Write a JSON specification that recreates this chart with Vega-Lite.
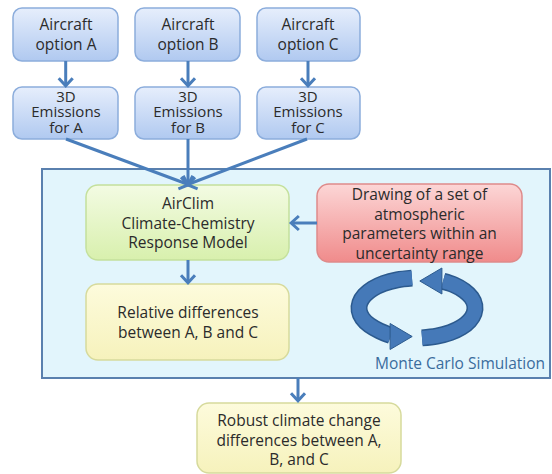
{
  "$schema": "https://vega.github.io/schema/vega-lite/v6.json",
  "width": 552,
  "height": 474,
  "autosize": "none",
  "padding": 0,
  "background": "white",
  "config": {"view": {"stroke": null}},
  "datasets": {
    "boxes": [
      {"name": "frame", "kind": "frame", "x": 42, "x2": 550, "y": 169, "y2": 378},
      {"name": "optA", "kind": "blue", "x": 13, "x2": 118, "y": 8, "y2": 61},
      {"name": "optB", "kind": "blue", "x": 135, "x2": 240, "y": 8, "y2": 61},
      {"name": "optC", "kind": "blue", "x": 257, "x2": 360, "y": 8, "y2": 61},
      {"name": "emA", "kind": "blue", "x": 13, "x2": 118, "y": 87, "y2": 139},
      {"name": "emB", "kind": "blue", "x": 135, "x2": 240, "y": 87, "y2": 139},
      {"name": "emC", "kind": "blue", "x": 257, "x2": 360, "y": 87, "y2": 139},
      {"name": "airclim", "kind": "green", "x": 86, "x2": 289, "y": 185, "y2": 260},
      {"name": "draw", "kind": "red", "x": 317, "x2": 522, "y": 184, "y2": 262},
      {"name": "rel", "kind": "yellow", "x": 86, "x2": 289, "y": 284, "y2": 360},
      {"name": "robust", "kind": "yellow", "x": 197, "x2": 401, "y": 403, "y2": 473}
    ],
    "links": [
      {"x": 65.7, "y": 61, "x2": 65.7, "y2": 85},
      {"x": 188, "y": 61, "x2": 188, "y2": 85},
      {"x": 308, "y": 61, "x2": 308, "y2": 85},
      {"x": 66, "y": 139, "x2": 187, "y2": 184},
      {"x": 188, "y": 139, "x2": 188, "y2": 184},
      {"x": 307, "y": 139, "x2": 189, "y2": 184},
      {"x": 317, "y": 223, "x2": 292, "y2": 223},
      {"x": 188, "y": 260, "x2": 188, "y2": 282},
      {"x": 298, "y": 378, "x2": 298, "y2": 400}
    ],
    "headsDown": [
      {"x": 65.7, "y": 82},
      {"x": 188, "y": 82},
      {"x": 308, "y": 82},
      {"x": 188, "y": 181},
      {"x": 188, "y": 279},
      {"x": 298, "y": 397}
    ],
    "headsLeft": [
      {"x": 295, "y": 223}
    ],
    "ring": [
      {"piece": "L", "i": 0, "x": 412, "y": 278.1},
      {"piece": "L", "i": 1, "x": 397.2, "y": 279.8},
      {"piece": "L", "i": 2, "x": 383.7, "y": 283.4},
      {"piece": "L", "i": 3, "x": 372.6, "y": 288.7},
      {"piece": "L", "i": 4, "x": 364.5, "y": 295.3},
      {"piece": "L", "i": 5, "x": 359.9, "y": 302.8},
      {"piece": "L", "i": 6, "x": 359.2, "y": 310.6},
      {"piece": "L", "i": 7, "x": 362.5, "y": 318.3},
      {"piece": "L", "i": 8, "x": 369.5, "y": 325.2},
      {"piece": "L", "i": 9, "x": 379.7, "y": 331.0},
      {"piece": "L", "i": 10, "x": 391, "y": 335.5},
      {"piece": "R", "i": 0, "x": 422, "y": 337.9},
      {"piece": "R", "i": 1, "x": 436.8, "y": 336.2},
      {"piece": "R", "i": 2, "x": 450.3, "y": 332.6},
      {"piece": "R", "i": 3, "x": 461.4, "y": 327.3},
      {"piece": "R", "i": 4, "x": 469.5, "y": 320.7},
      {"piece": "R", "i": 5, "x": 474.1, "y": 313.2},
      {"piece": "R", "i": 6, "x": 474.8, "y": 305.4},
      {"piece": "R", "i": 7, "x": 471.5, "y": 297.7},
      {"piece": "R", "i": 8, "x": 464.5, "y": 290.8},
      {"piece": "R", "i": 9, "x": 454.3, "y": 285.0},
      {"piece": "R", "i": 10, "x": 443, "y": 281.3}
    ],
    "texts": [
      {"label": "Aircraft\noption A", "kind": "box", "x": 66, "y": 25},
      {"label": "Aircraft\noption B", "kind": "box", "x": 188, "y": 25},
      {"label": "Aircraft\noption C", "kind": "box", "x": 308, "y": 25},
      {"label": "3D\nEmissions\nfor A", "kind": "emis", "x": 66, "y": 96.5},
      {"label": "3D\nEmissions\nfor B", "kind": "emis", "x": 188, "y": 96.5},
      {"label": "3D\nEmissions\nfor C", "kind": "emis", "x": 308, "y": 96.5},
      {"label": "AirClim\nClimate-Chemistry\nResponse Model", "kind": "box", "x": 188, "y": 204},
      {"label": "Drawing of a set of\natmospheric\nparameters within an\nuncertainty range", "kind": "box", "x": 419.5, "y": 195},
      {"label": "Relative differences\nbetween A, B and C", "kind": "box", "x": 188, "y": 313},
      {"label": "Robust climate change\ndifferences between A,\nB, and C", "kind": "box", "x": 299, "y": 421},
      {"label": "Monte Carlo Simulation", "kind": "caption", "x": 460, "y": 364}
    ]
  },
  "layer": [
    {
      "data": {"name": "boxes"},
      "transform": [{"filter": "datum.kind === 'frame'"}],
      "mark": {"type": "rect", "fill": "#e2f5fc", "stroke": "#5a80ae", "strokeWidth": 2},
      "encoding": {
        "x": {"field": "x", "type": "quantitative", "scale": {"domain": [0, 552], "nice": false, "zero": false}, "axis": null},
        "x2": {"field": "x2"},
        "y": {"field": "y", "type": "quantitative", "scale": {"domain": [0, 474], "nice": false, "zero": false, "reverse": true}, "axis": null},
        "y2": {"field": "y2"}
      }
    },
    {
      "data": {"name": "boxes"},
      "transform": [{"filter": "datum.kind === 'blue'"}],
      "mark": {"type": "rect", "cornerRadius": 9, "stroke": "#8caddc", "strokeWidth": 1.5,
        "fill": {"gradient": "linear", "x1": 0, "y1": 0, "x2": 0, "y2": 1, "stops": [{"offset": 0, "color": "#e6eefc"}, {"offset": 1, "color": "#b0c9f0"}]}},
      "encoding": {
        "x": {"field": "x", "type": "quantitative"},
        "x2": {"field": "x2"},
        "y": {"field": "y", "type": "quantitative"},
        "y2": {"field": "y2"}
      }
    },
    {
      "data": {"name": "boxes"},
      "transform": [{"filter": "datum.kind === 'green'"}],
      "mark": {"type": "rect", "cornerRadius": 12, "stroke": "#c4e09c", "strokeWidth": 1.5,
        "fill": {"gradient": "linear", "x1": 0, "y1": 0, "x2": 0, "y2": 1, "stops": [{"offset": 0, "color": "#f3fbe3"}, {"offset": 1, "color": "#d8f0ad"}]}},
      "encoding": {
        "x": {"field": "x", "type": "quantitative"},
        "x2": {"field": "x2"},
        "y": {"field": "y", "type": "quantitative"},
        "y2": {"field": "y2"}
      }
    },
    {
      "data": {"name": "boxes"},
      "transform": [{"filter": "datum.kind === 'red'"}],
      "mark": {"type": "rect", "cornerRadius": 12, "stroke": "#de8a8a", "strokeWidth": 1.5,
        "fill": {"gradient": "linear", "x1": 0, "y1": 0, "x2": 0, "y2": 1, "stops": [{"offset": 0, "color": "#fcd6d6"}, {"offset": 1, "color": "#f08b8b"}]}},
      "encoding": {
        "x": {"field": "x", "type": "quantitative"},
        "x2": {"field": "x2"},
        "y": {"field": "y", "type": "quantitative"},
        "y2": {"field": "y2"}
      }
    },
    {
      "data": {"name": "boxes"},
      "transform": [{"filter": "datum.kind === 'yellow'"}],
      "mark": {"type": "rect", "cornerRadius": 12, "stroke": "#d6da9c", "strokeWidth": 1.5,
        "fill": {"gradient": "linear", "x1": 0, "y1": 0, "x2": 0, "y2": 1, "stops": [{"offset": 0, "color": "#fdfbdc"}, {"offset": 1, "color": "#f6f2bc"}]}},
      "encoding": {
        "x": {"field": "x", "type": "quantitative"},
        "x2": {"field": "x2"},
        "y": {"field": "y", "type": "quantitative"},
        "y2": {"field": "y2"}
      }
    },
    {
      "data": {"name": "links"},
      "mark": {"type": "rule", "color": "#4a7ebb", "strokeWidth": 3},
      "encoding": {
        "x": {"field": "x", "type": "quantitative"},
        "x2": {"field": "x2"},
        "y": {"field": "y", "type": "quantitative"},
        "y2": {"field": "y2"}
      }
    },
    {
      "data": {"name": "headsDown"},
      "mark": {"type": "point", "shape": "M-1,-0.55L0,0.55L1,-0.55", "size": 196, "filled": false, "stroke": "#4a7ebb", "strokeWidth": 3, "opacity": 1},
      "encoding": {
        "x": {"field": "x", "type": "quantitative"},
        "y": {"field": "y", "type": "quantitative"}
      }
    },
    {
      "data": {"values": [{"x": 184.4, "y": 183.6}]},
      "mark": {"type": "point", "shape": "M-1,-0.55L0,0.55L1,-0.55", "size": 196, "filled": false, "stroke": "#4a7ebb", "strokeWidth": 3, "opacity": 1, "angle": 290},
      "encoding": {
        "x": {"field": "x", "type": "quantitative"},
        "y": {"field": "y", "type": "quantitative"}
      }
    },
    {
      "data": {"values": [{"x": 191.6, "y": 183.6}]},
      "mark": {"type": "point", "shape": "M-1,-0.55L0,0.55L1,-0.55", "size": 196, "filled": false, "stroke": "#4a7ebb", "strokeWidth": 3, "opacity": 1, "angle": 70},
      "encoding": {
        "x": {"field": "x", "type": "quantitative"},
        "y": {"field": "y", "type": "quantitative"}
      }
    },
    {
      "data": {"name": "headsLeft"},
      "mark": {"type": "point", "shape": "M0.55,-1L-0.55,0L0.55,1", "size": 196, "filled": false, "stroke": "#4a7ebb", "strokeWidth": 3, "opacity": 1},
      "encoding": {
        "x": {"field": "x", "type": "quantitative"},
        "y": {"field": "y", "type": "quantitative"}
      }
    },
    {
      "data": {"name": "ring"},
      "mark": {"type": "line", "color": "#2c5a8e", "strokeWidth": 17, "strokeCap": "butt", "interpolate": "cardinal"},
      "encoding": {
        "x": {"field": "x", "type": "quantitative"},
        "y": {"field": "y", "type": "quantitative"},
        "detail": {"field": "piece"},
        "order": {"field": "i", "type": "quantitative"}
      }
    },
    {
      "data": {"name": "ring"},
      "mark": {"type": "line", "color": "#4579b8", "strokeWidth": 14, "strokeCap": "butt", "interpolate": "cardinal"},
      "encoding": {
        "x": {"field": "x", "type": "quantitative"},
        "y": {"field": "y", "type": "quantitative"},
        "detail": {"field": "piece"},
        "order": {"field": "i", "type": "quantitative"}
      }
    },
    {
      "data": {"values": [{"x": 400.5, "y": 336.5}]},
      "mark": {"type": "point", "shape": "M-0.8,-1L0.9,0L-0.8,1Z", "size": 676, "filled": true, "fill": "#4579b8", "stroke": "#2c5a8e", "strokeWidth": 1, "opacity": 1},
      "encoding": {
        "x": {"field": "x", "type": "quantitative"},
        "y": {"field": "y", "type": "quantitative"}
      }
    },
    {
      "data": {"values": [{"x": 431.5, "y": 281}]},
      "mark": {"type": "point", "shape": "M0.8,-1L-0.9,0L0.8,1Z", "size": 676, "filled": true, "fill": "#4579b8", "stroke": "#2c5a8e", "strokeWidth": 1, "opacity": 1},
      "encoding": {
        "x": {"field": "x", "type": "quantitative"},
        "y": {"field": "y", "type": "quantitative"}
      }
    },
    {
      "data": {"name": "texts"},
      "transform": [{"filter": "datum.kind === 'box'"}],
      "mark": {"type": "text", "font": "Open Sans", "fontSize": 15.5, "color": "#2b2b2b", "align": "center", "baseline": "middle", "lineBreak": "\n", "lineHeight": 19.5},
      "encoding": {
        "x": {"field": "x", "type": "quantitative"},
        "y": {"field": "y", "type": "quantitative"},
        "text": {"field": "label"}
      }
    },
    {
      "data": {"name": "texts"},
      "transform": [{"filter": "datum.kind === 'emis'"}],
      "mark": {"type": "text", "font": "Open Sans", "fontSize": 15, "color": "#2b2b2b", "align": "center", "baseline": "middle", "lineBreak": "\n", "lineHeight": 15.5},
      "encoding": {
        "x": {"field": "x", "type": "quantitative"},
        "y": {"field": "y", "type": "quantitative"},
        "text": {"field": "label"}
      }
    },
    {
      "data": {"name": "texts"},
      "transform": [{"filter": "datum.kind === 'caption'"}],
      "mark": {"type": "text", "font": "Open Sans", "fontSize": 15.5, "color": "#3a6c9c", "align": "center", "baseline": "middle"},
      "encoding": {
        "x": {"field": "x", "type": "quantitative"},
        "y": {"field": "y", "type": "quantitative"},
        "text": {"field": "label"}
      }
    }
  ]
}
